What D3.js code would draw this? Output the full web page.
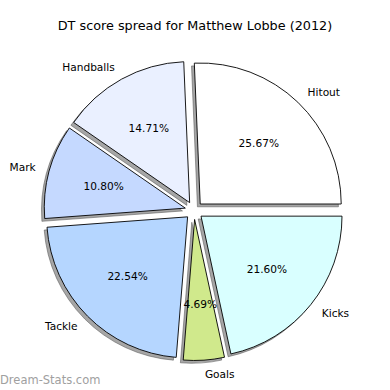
<!DOCTYPE html>
<html>
<head>
<meta charset="utf-8">
<script src="https://cdn.jsdelivr.net/npm/d3@7"></script>
<style>
body { margin:0; background:#fff; }
text { font-family: "DejaVu Sans", sans-serif; fill:#000; }
</style>
</head>
<body>
<svg id="pie"></svg>
<script>
// data (percent of DT score)
var categories = ["Hitout", "Handballs", "Mark", "Tackle", "Goals", "Kicks"];
var percents = [25.67, 14.71, 10.80, 22.54, 4.69, 21.60];
var sliceColors = ["#ffffff", "#eaf0ff", "#c5d9ff", "#b5d6ff", "#d0e98c", "#d9ffff"];

var screen = {width:390, height:390};
var center = {x:194, y:210.5};
var radius = 141;
var explode = 9;

var svg = d3.select("#pie")
    .attr("width", screen.width)
    .attr("height", screen.height);

// title
svg.append("text")
    .text("DT score spread for Matthew Lobbe (2012)")
    .attr("x", 195)
    .attr("y", 30)
    .attr("text-anchor", "middle")
    .style("font-size", "12.8px");

// counter-clockwise from 3 o'clock, like matplotlib
var pie = d3.pie()
    .sort(null)
    .startAngle(Math.PI/2)
    .endAngle(Math.PI/2 - 2*Math.PI);

var arcs = pie(percents);
var arcgen = d3.arc().innerRadius(0).outerRadius(radius);

var offsetOf = function(d, dist)
{
    var mid = (d.startAngle + d.endAngle)/2;
    return {x: Math.sin(mid)*dist, y: -Math.cos(mid)*dist};
};

var g = svg.append("g")
    .attr("transform", "translate("+center.x+","+center.y+")");

// shadows first
g.selectAll("path.shadow")
    .data(arcs)
    .enter()
    .append("path")
    .attr("class", "shadow")
    .attr("d", arcgen)
    .attr("transform", function(d){
        var o = offsetOf(d, explode);
        return "translate("+(o.x-2.8)+","+(o.y+2.8)+")";
    })
    .attr("fill", "rgba(77,77,77,0.5)")
    .attr("stroke", "rgba(77,77,77,0.5)")
    .attr("stroke-width", 1);

var wedges = g.selectAll("g.wedge")
    .data(arcs)
    .enter()
    .append("g")
    .attr("class", "wedge")
    .attr("transform", function(d){
        var o = offsetOf(d, explode);
        return "translate("+o.x+","+o.y+")";
    });

wedges.append("path")
    .attr("d", arcgen)
    .attr("fill", function(d, i){ return sliceColors[i]; })
    .attr("stroke", "#000")
    .attr("stroke-width", 0.9);

// category labels
wedges.append("text")
    .text(function(d, i){ return categories[i]; })
    .attr("x", function(d){ return offsetOf(d, radius*1.1).x; })
    .attr("y", function(d){ return offsetOf(d, radius*1.1).y; })
    .attr("dy", "0.35em")
    .attr("text-anchor", function(d){ return offsetOf(d, 1).x > 0 ? "start" : "end"; })
    .style("font-size", "10.6px");

// percent labels
wedges.append("text")
    .text(function(d){ return d.data.toFixed(2) + "%"; })
    .attr("x", function(d){ return offsetOf(d, radius*0.6).x; })
    .attr("y", function(d){ return offsetOf(d, radius*0.6).y; })
    .attr("dy", "0.35em")
    .attr("text-anchor", "middle")
    .style("font-size", "10.6px");

// watermark
svg.append("text")
    .text("Dream-Stats.com")
    .attr("x", 0)
    .attr("y", 384)
    .style("font-size", "11.5px")
    .style("fill", "#a0a0a0");
</script>
</body>
</html>
